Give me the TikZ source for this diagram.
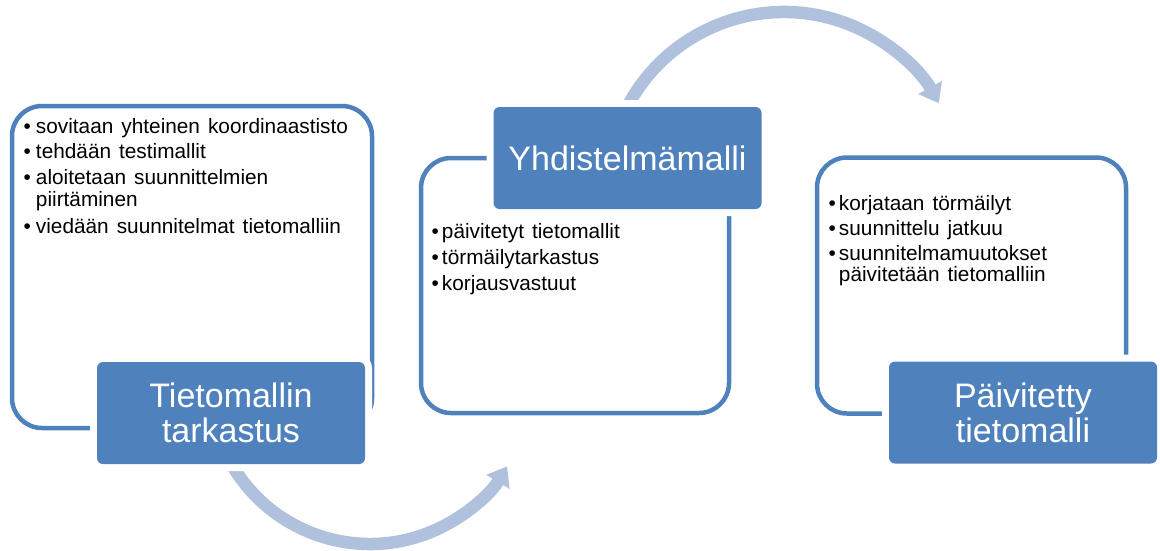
\documentclass[tikz,border=0pt]{standalone}
\usepackage{fontspec}
\setmainfont{Liberation Sans}
\usetikzlibrary{arrows.meta}
\definecolor{boxblue}{RGB}{79,129,189}
\definecolor{arrowblue}{RGB}{176,193,221}
\newcommand{\widespaces}{\spaceskip=8pt\relax}
\begin{document}
\begin{tikzpicture}[x=1pt,y=-1pt,
  frame/.style={draw=boxblue, line width=4.5pt, rounded corners=30pt, inner sep=0pt},
  headbox/.style={fill=boxblue, rounded corners=6pt, inner sep=0pt,
    minimum width=268pt, minimum height=102pt, text=white, align=center,
    font=\fontsize{34}{35}\selectfont, preaction={draw=white, line width=14pt}},
  bodytext/.style={inner sep=0pt, anchor=base west,
    font=\fontsize{20.8}{21.5}\selectfont},
  cyclearrow/.style={draw=arrowblue, line width=12.5pt,
    -{Triangle[width=26pt,length=18pt]}},
]
\useasboundingbox (0,0) rectangle (1160,550);

% frames
\node[frame, minimum width=360pt, minimum height=322pt] (f1) at (192,267) {};
\node[frame, minimum width=308pt, minimum height=255pt] (f2) at (575,285.5) {};
\node[frame, minimum width=309pt, minimum height=256pt] (f3) at (971.5,285.5) {};

% cycle arrows (behind the heading boxes)
\coordinate (a1s) at (225,451.6);
\coordinate (a2s) at (623.6,114.2);
\draw[cyclearrow] (a1s) arc[start angle=155, end angle=31, radius=160];
\draw[cyclearrow] (a2s) arc[start angle=-155, end angle=-29, radius=177];

% heading boxes
\node[headbox] (h1) at (231,413) {Tietomallin\\tarkastus};
\node[headbox] (h2) at (627.5,158) {Yhdistelmämalli};
\node[headbox] (h3) at (1023,412.5) {Päivitetty\\tietomalli};

% bullet texts
\node[bodytext] (t1) at (23.5,133) {\widespaces\begin{tabular}[t]{@{}l@{\hspace{5pt}}l@{}}
•&sovitaan yhteinen koordinaastisto\\[4pt]
•&tehdään testimallit\\[4.5pt]
•&aloitetaan suunnittelmien\\
&piirtäminen\\[5.5pt]
•&viedään suunnitelmat tietomalliin
\end{tabular}};
\node[bodytext] (t2) at (431.5,238) {\widespaces\begin{tabular}[t]{@{}l@{\hspace{3pt}}l@{}}
•&päivitetyt tietomallit\\[4.5pt]
•&törmäilytarkastus\\[4.5pt]
•&korjausvastuut
\end{tabular}};
\node[bodytext] (t3) at (828.5,210) {\widespaces\begin{tabular}[t]{@{}l@{\hspace{3pt}}l@{}}
•&korjataan törmäilyt\\[3.5pt]
•&suunnittelu jatkuu\\[3.5pt]
•&suunnitelmamuutokset\\
&päivitetään tietomalliin
\end{tabular}};
\end{tikzpicture}
\end{document}
